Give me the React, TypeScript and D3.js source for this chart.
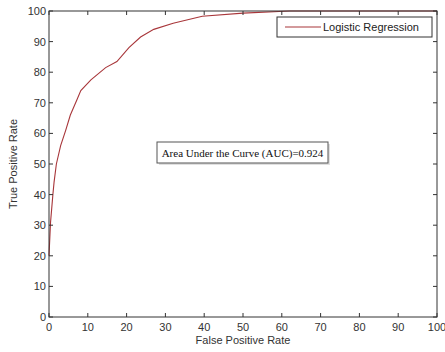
import React, { useEffect, useRef } from 'react';
import * as d3 from 'd3';

// ROC curve points (FPR %, TPR %)
const fpr = [0, 0.4, 1, 1.3, 1.9, 3, 4.3, 5.5, 7.2, 8.2, 10.8, 14.6, 17.5, 20.6, 23.6, 27, 32, 39.5, 50, 62, 100];
const tpr = [20, 31, 40, 44, 50, 56, 61, 66, 71, 74, 77.5, 81.5, 83.5, 88, 91.5, 94, 96, 98.3, 99.3, 100, 100];
const xTicks = [0, 10, 20, 30, 40, 50, 60, 70, 80, 90, 100];
const yTicks = [0, 10, 20, 30, 40, 50, 60, 70, 80, 90, 100];
const seriesName = 'Logistic Regression';
const aucLabel = 'Area Under the Curve (AUC)=0.924';

const W = 445;
const H = 352;

export default function App() {
  const svgRef = useRef<SVGSVGElement>(null);

  useEffect(() => {
    if (!svgRef.current) return;
    const svg = d3.select(svgRef.current);
    svg.selectAll('*').remove();

    const left = 49;
    const right = 437;
    const top = 11;
    const bottom = 317;
    const axisColor = '#333';
    const sans = 'Arial, "Liberation Sans", Helvetica, sans-serif';

    const x = d3.scaleLinear().domain([0, 100]).range([left, right]);
    const y = d3.scaleLinear().domain([0, 100]).range([bottom, top]);

    svg.append('rect').attr('width', W).attr('height', H).attr('fill', '#fff');

    // curve
    const pts = fpr.map((f, i) => [f, tpr[i]] as [number, number]);
    svg
      .append('path')
      .datum(pts)
      .attr('fill', 'none')
      .attr('stroke', '#a8363a')
      .attr('stroke-width', 1.1)
      .attr('d', d3.line<[number, number]>().x((d) => x(d[0])).y((d) => y(d[1])));

    // ticks (inside) on all four sides
    const tickLen = 4;
    const g = svg.append('g').attr('stroke', axisColor).attr('stroke-width', 1);
    xTicks.forEach((t) => {
      g.append('line').attr('x1', x(t)).attr('x2', x(t)).attr('y1', bottom).attr('y2', bottom - tickLen);
      g.append('line').attr('x1', x(t)).attr('x2', x(t)).attr('y1', top).attr('y2', top + tickLen);
    });
    yTicks.forEach((t) => {
      g.append('line').attr('x1', left).attr('x2', left + tickLen).attr('y1', y(t)).attr('y2', y(t));
      g.append('line').attr('x1', right).attr('x2', right - tickLen).attr('y1', y(t)).attr('y2', y(t));
    });

    // frame
    svg
      .append('rect')
      .attr('x', left)
      .attr('y', top)
      .attr('width', right - left)
      .attr('height', bottom - top)
      .attr('fill', 'none')
      .attr('stroke', axisColor)
      .attr('stroke-width', 1);

    // tick labels
    xTicks.forEach((t) => {
      svg
        .append('text')
        .attr('x', x(t))
        .attr('y', bottom + 14)
        .attr('text-anchor', 'middle')
        .style('font-family', sans)
        .style('font-size', '11px')
        .attr('fill', '#333')
        .text(t);
    });
    yTicks.forEach((t) => {
      svg
        .append('text')
        .attr('x', left - 3)
        .attr('y', y(t) + 4)
        .attr('text-anchor', 'end')
        .style('font-family', sans)
        .style('font-size', '11px')
        .attr('fill', '#333')
        .text(t);
    });

    // axis titles
    svg
      .append('text')
      .attr('x', (left + right) / 2)
      .attr('y', bottom + 27)
      .attr('text-anchor', 'middle')
      .style('font-family', sans)
      .style('font-size', '11px')
      .attr('fill', '#333')
      .text('False Positive Rate');

    svg
      .append('text')
      .attr('transform', `translate(17,${(top + bottom) / 2}) rotate(-90)`)
      .attr('text-anchor', 'middle')
      .style('font-family', sans)
      .style('font-size', '11px')
      .attr('fill', '#333')
      .text('True Positive Rate');

    // legend
    const lg = svg.append('g');
    lg.append('rect')
      .attr('x', 277)
      .attr('y', 17)
      .attr('width', 155)
      .attr('height', 20)
      .attr('fill', '#fff')
      .attr('stroke', axisColor);
    lg.append('line')
      .attr('x1', 285)
      .attr('x2', 321)
      .attr('y1', 27)
      .attr('y2', 27)
      .attr('stroke', '#a8363a')
      .attr('stroke-width', 1.1);
    lg.append('text')
      .attr('x', 323)
      .attr('y', 31)
      .style('font-family', sans)
      .style('font-size', '11px')
      .attr('fill', '#222')
      .text(seriesName);

    // AUC annotation
    const ag = svg.append('g');
    ag.append('rect')
      .attr('x', 159)
      .attr('y', 144)
      .attr('width', 171)
      .attr('height', 21)
      .attr('fill', '#ccc')
      .attr('opacity', 0.6);
    ag.append('rect')
      .attr('x', 157)
      .attr('y', 142)
      .attr('width', 171)
      .attr('height', 21)
      .attr('fill', '#fff')
      .attr('stroke', '#555');
    ag.append('text')
      .attr('x', 242.5)
      .attr('y', 156.5)
      .attr('text-anchor', 'middle')
      .style('font-family', '"Times New Roman", "Liberation Serif", serif')
      .style('font-size', '11px')
      .attr('fill', '#111')
      .text(aucLabel);
  }, []);

  return (
    <svg
      ref={svgRef}
      width={W}
      height={H}
      style={{ position: 'absolute', left: 0, top: 0, display: 'block' }}
    />
  );
}
